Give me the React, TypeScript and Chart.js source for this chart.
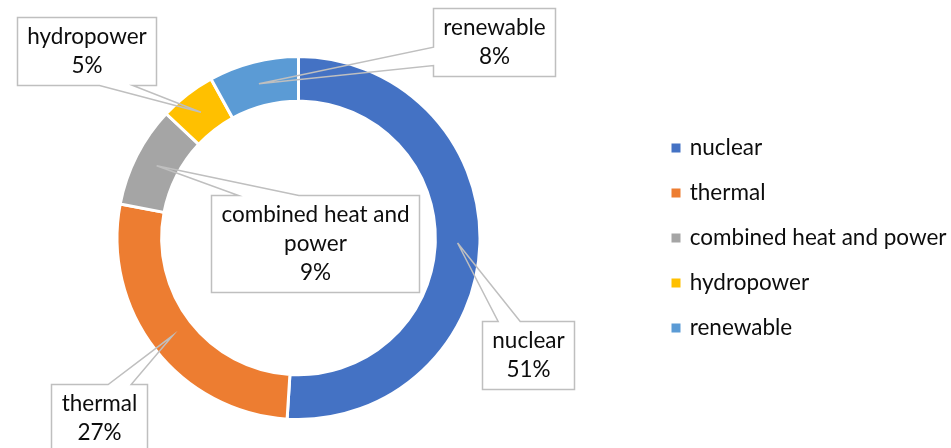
import React, { useEffect, useRef } from 'react';
import { Chart, registerables } from 'chart.js';

Chart.register(...registerables);

// ---- data ----
const categories = ['nuclear', 'thermal', 'combined heat and power', 'hydropower', 'renewable'];
const shares = [51, 27, 9, 5, 8];
const colors = ['#4472C4', '#ED7D31', '#A5A5A5', '#FFC000', '#5B9BD5'];

// ---- callout layout (box centre offset from doughnut centre, pointer side and base span) ----
const calloutDx = [229.5, -200, 16, -212.5, 195.5];
const calloutDy = [117, 180, 5, -187, -196];
const calloutSide = ['top', 'top', 'top', 'bottom', 'left'];
const calloutBase = [
  [0.17, 0.41],
  [0.59, 0.83],
  [0.13, 0.42],
  [0.59, 0.83],
  [0.57, 0.84],
];

const FONT_FAMILY = 'Lato';
const FONT_SIZE = 22.5;
const LINE_H = 29;
const WRAP_W = 210;
const LEGEND_PAD = 22.5;

// canvas is shifted left so the doughnut sits left of the plot-area centre
const SHIFT = 54;
const PAGE_W = 951;
const PAGE_H = 448;
const CANVAS_W = PAGE_W + SHIFT;

function wrapText(ctx: CanvasRenderingContext2D, text: string, maxW: number): string[] {
  const words = text.split(' ');
  const lines: string[] = [];
  let cur = '';
  for (const w of words) {
    const test = cur ? cur + ' ' + w : w;
    if (cur && ctx.measureText(test).width > maxW) {
      lines.push(cur);
      cur = w;
    } else {
      cur = test;
    }
  }
  if (cur) lines.push(cur);
  return lines;
}

const calloutPlugin = {
  id: 'callouts',
  afterDatasetsDraw(chart: any) {
    const meta = chart.getDatasetMeta(0);
    const data: number[] = chart.data.datasets[0].data;
    const total = data.reduce((a, b) => a + b, 0);
    const labels: string[] = chart.data.labels;
    const ctx: CanvasRenderingContext2D = chart.ctx;
    ctx.save();
    ctx.font = `${FONT_SIZE}px ${FONT_FAMILY}`;
    meta.data.forEach((arc: any, i: number) => {
      const cx0 = arc.x;
      const cy0 = arc.y;
      const tip = arc.getCenterPoint();
      const lines = wrapText(ctx, labels[i], WRAP_W);
      lines.push(Math.round((data[i] / total) * 100) + '%');
      const tw = Math.max(...lines.map((l) => ctx.measureText(l).width));
      const w = Math.round(tw + 20);
      const h = lines.length * LINE_H + 10;
      const bx = cx0 + calloutDx[i];
      const by = cy0 + calloutDy[i];
      const x0 = Math.round(bx - w / 2) + 0.5;
      const y0 = Math.round(by - h / 2) + 0.5;
      const x1 = x0 + w;
      const y1 = y0 + h;
      const [f1, f2] = calloutBase[i];
      const side = calloutSide[i];
      const pts: [number, number][] = [];
      pts.push([x0, y0]);
      if (side === 'top') {
        pts.push([x0 + f1 * w, y0], [tip.x, tip.y], [x0 + f2 * w, y0]);
      }
      pts.push([x1, y0]);
      if (side === 'right') {
        pts.push([x1, y0 + f1 * h], [tip.x, tip.y], [x1, y0 + f2 * h]);
      }
      pts.push([x1, y1]);
      if (side === 'bottom') {
        pts.push([x0 + f2 * w, y1], [tip.x, tip.y], [x0 + f1 * w, y1]);
      }
      pts.push([x0, y1]);
      if (side === 'left') {
        pts.push([x0, y0 + f2 * h], [tip.x, tip.y], [x0, y0 + f1 * h]);
      }
      ctx.fillStyle = '#ffffff';
      ctx.fillRect(x0, y0, w, h);
      ctx.beginPath();
      ctx.moveTo(pts[0][0], pts[0][1]);
      for (let k = 1; k < pts.length; k++) ctx.lineTo(pts[k][0], pts[k][1]);
      ctx.closePath();
      ctx.strokeStyle = '#BFBFBF';
      ctx.lineWidth = 1.5;
      ctx.lineJoin = 'miter';
      ctx.stroke();
      ctx.fillStyle = '#0d0d0d';
      ctx.textAlign = 'center';
      ctx.textBaseline = 'middle';
      const midY = (y0 + y1) / 2;
      lines.forEach((l, k) => {
        ctx.fillText(l, (x0 + x1) / 2, midY + (k - (lines.length - 1) / 2) * LINE_H);
      });
    });
    ctx.restore();
  },
};

export default function App() {
  const ref = useRef<HTMLCanvasElement | null>(null);
  useEffect(() => {
    const canvas = ref.current;
    if (!canvas) return;
    const mctx = canvas.getContext('2d')!;
    mctx.font = `${FONT_SIZE}px ${FONT_FAMILY}`;
    const longest = Math.max(...categories.map((c) => mctx.measureText(c).width));
    // legend left edge at page x 651 -> canvas x 651 + SHIFT; plot area spans 0..legendLeft
    const legendLeft = 651 + SHIFT;
    const legendWidth = LEGEND_PAD + 5 + FONT_SIZE / 2 + longest + 10;
    const padRight = CANVAS_W - legendLeft - legendWidth;

    const defaultGen = (Chart as any).overrides.doughnut.plugins.legend.labels.generateLabels;
    const chart = new Chart(canvas, {
      type: 'doughnut',
      data: {
        labels: categories,
        datasets: [
          {
            data: shares,
            backgroundColor: colors,
            borderColor: '#ffffff',
            borderWidth: 3,
            hoverOffset: 0,
          },
        ],
      },
      options: {
        responsive: false,
        animation: false,
        events: [],
        cutout: '75.4%',
        layout: { padding: { top: 55, bottom: 27, left: 0, right: padRight } },
        plugins: {
          tooltip: { enabled: false },
          legend: {
            position: 'right',
            labels: {
              font: { family: FONT_FAMILY, size: FONT_SIZE },
              color: '#0d0d0d',
              boxWidth: 5,
              boxHeight: 5,
              padding: LEGEND_PAD,
              generateLabels: (c: any) =>
                defaultGen(c).map((l: any) => ({ ...l, strokeStyle: l.fillStyle, lineWidth: 4 })),
            },
          },
        },
      },
      plugins: [calloutPlugin],
    } as any);
    return () => chart.destroy();
  }, []);
  return (
    <div
      style={{
        position: 'fixed',
        left: 0,
        top: 0,
        width: PAGE_W,
        height: PAGE_H,
        overflow: 'hidden',
        background: '#fff',
      }}
    >
      <canvas
        ref={ref}
        width={CANVAS_W}
        height={PAGE_H}
        style={{ display: 'block', position: 'absolute', left: -SHIFT, top: 0 }}
      />
    </div>
  );
}
